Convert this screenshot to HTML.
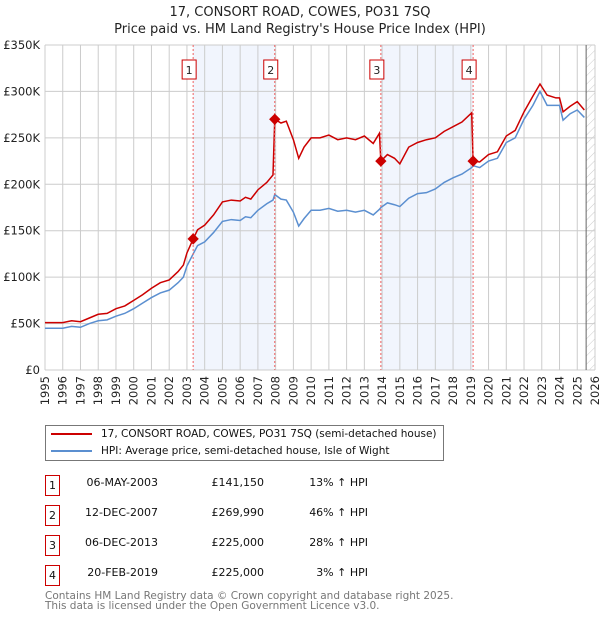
<!DOCTYPE html>
<html><head><meta charset="utf-8"><style>
body{margin:0;background:#fff;font-family:"DejaVu Sans","Liberation Sans",sans-serif;}
.w{position:relative;width:600px;height:620px;overflow:hidden}
</style></head><body><div class="w">
<svg id="c" width="600" height="620" font-family="DejaVu Sans, Liberation Sans, sans-serif">
<defs><pattern id="h" width="6" height="6" patternUnits="userSpaceOnUse" patternTransform="rotate(45)"><line x1="0" y1="0" x2="0" y2="6" stroke="#ccc" stroke-width="1"/></pattern></defs>
<text x="300" y="16" text-anchor="middle" font-size="13" fill="#222">17, CONSORT ROAD, COWES, PO31 7SQ</text>
<text x="300" y="33" text-anchor="middle" font-size="13" fill="#222">Price paid vs. HM Land Registry's House Price Index (HPI)</text>
<g id="g"></g>
</svg>
<div style="position:absolute;left:45px;top:425px;width:397px;height:34px;border:1px solid #777;font-size:10.5px;color:#111">
<div style="position:absolute;left:5px;top:7px;width:41px;height:2px;background:#cc0000"></div>
<div style="position:absolute;left:55px;top:2px;white-space:nowrap">17, CONSORT ROAD, COWES, PO31 7SQ (semi-detached house)</div>
<div style="position:absolute;left:5px;top:24px;width:41px;height:2px;background:#5b8fd0"></div>
<div style="position:absolute;left:55px;top:19px;white-space:nowrap">HPI: Average price, semi-detached house, Isle of Wight</div>
</div>
<div id="t" style="font-size:11px;color:#111"></div>
<div style="position:absolute;left:45px;top:591px;font-size:10.5px;color:#777;line-height:10px;white-space:nowrap">Contains HM Land Registry data © Crown copyright and database right 2025.<br>This data is licensed under the Open Government Licence v3.0.</div>
</div>
<script>
const years=[1995,1996,1996.5,1997,1997.5,1998,1998.5,1999,1999.5,2000,2000.5,2001,2001.5,2002,2002.5,2002.8,2003,2003.35,2003.6,2004,2004.5,2005,2005.5,2006,2006.3,2006.6,2007,2007.5,2007.85,2007.95,2008.3,2008.6,2009,2009.3,2009.6,2010,2010.5,2011,2011.5,2012,2012.5,2013,2013.5,2013.85,2013.93,2014.3,2014.7,2015,2015.5,2016,2016.5,2017,2017.5,2018,2018.5,2019.05,2019.13,2019.5,2020,2020.5,2021,2021.5,2022,2022.5,2022.9,2023.3,2023.8,2024,2024.2,2024.6,2025,2025.4];
const hpi=[45,45,47,46,50,53,54,58,61,66,72,78,83,86,94,100,112,125,134,138,148,160,162,161,165,164,172,179,183,189,184,183,170,155,163,172,172,174,171,172,170,172,167,173,175,180,178,176,185,190,191,195,202,207,211,218,220,218,225,228,245,250,270,285,300,285,285,285,269,276,280,272];
const price=[51,51,53,52,56,60,61,66,69,75,81,88,94,97,106,113,126,141,151,156,167,181,183,182,186,184,194,202,210,270,266,268,248,228,240,250,250,253,248,250,248,252,244,255,225,232,228,222,240,245,248,250,257,262,267,277,225,224,232,235,252,258,278,295,308,296,293,293,278,284,289,280];
const saleYears=[2003.35,2007.95,2013.93,2019.13];
const saleValues=[141.15,269.99,225,225];
const saleDates=["06-MAY-2003","12-DEC-2007","06-DEC-2013","20-FEB-2019"];
const salePrices=["£141,150","£269,990","£225,000","£225,000"];
const saleHpi=["13% ↑ HPI","46% ↑ HPI","28% ↑ HPI","3% ↑ HPI"];
const yTicks=[0,50,100,150,200,250,300,350];
const X0=45,X1=595,Y0=370,Y1=45;
const x=v=>X0+(v-1995)*(X1-X0)/31;
const y=v=>Y0-v*(Y0-Y1)/350;
const g=document.getElementById('g');const NS='http://www.w3.org/2000/svg';
function mk(t,a,p){const e=document.createElementNS(NS,t);for(const k in a)e.setAttribute(k,a[k]);(p||g).appendChild(e);return e;}
for(let i=0;i<2;i++){const r=mk('rect',{x:x(saleYears[2*i]),y:Y1,width:x(saleYears[2*i+1])-x(saleYears[2*i]),height:Y0-Y1,fill:'#eef3fc',opacity:0.8});

}
const hr=mk('rect',{x:x(2025.5),y:Y1,width:X1-x(2025.5),height:Y0-Y1,fill:'url(#h)'});


for(let yr=1995;yr<=2026;yr++){const l=mk('line',{x1:x(yr),x2:x(yr),y1:Y1,y2:Y0,stroke:'#ccc','stroke-width':1});


const t=mk('text',{transform:`translate(${x(yr)+4},${Y0+6}) rotate(-90)`,'text-anchor':'end','font-size':11.5,fill:'#222'});t.textContent=yr;

}
yTicks.forEach(v=>{const l=mk('line',{x1:X0,x2:X1,y1:y(v),y2:y(v),stroke:'#ccc','stroke-width':1});


const t=mk('text',{x:40,y:y(v)+4,'text-anchor':'end','font-size':11.5,fill:'#222'});t.textContent=v===0?'£0':'£'+v+'K';

});
const dl=mk('line',{x1:x(2025.5),x2:x(2025.5),y1:Y1,y2:Y0,stroke:'#666','stroke-width':1});


const pb=mk('polyline',{points:years.map((v,i)=>x(v)+','+y(hpi[i])).join(' '),fill:'none',stroke:'#5b8fd0','stroke-width':1.5});


const pr=mk('polyline',{points:years.map((v,i)=>x(v)+','+y(price[i])).join(' '),fill:'none',stroke:'#cc0000','stroke-width':1.5});


saleYears.forEach((s,i)=>{const l=mk('line',{x1:x(s),x2:x(s),y1:Y1,y2:Y0,stroke:'#f06060','stroke-width':1,'stroke-dasharray':'2,2'});


const d=mk('rect',{x:x(s)-4,y:y(saleValues[i])-4,width:8,height:8,fill:'#cc0000',transform:`rotate(45 ${x(s)} ${y(saleValues[i])})`});


const b=mk('rect',{x:x(s)-11,y:60,width:14,height:19,fill:'#fff',stroke:'#cc0000','stroke-width':1});


const t=mk('text',{x:x(s)-4,y:74,'text-anchor':'middle','font-size':11,fill:'#222'});t.textContent=i+1;

});
const T=document.getElementById('t');
saleDates.forEach((d,i)=>{const top=475+i*30;const r=document.createElement('div');


r.innerHTML=`<div style="position:absolute;left:45px;top:${top}px;width:13px;height:19px;border:1px solid #cc0000;text-align:center;line-height:19px">${i+1}</div>
<div style="position:absolute;left:60px;top:${top+1}px;width:98px;text-align:right;white-space:nowrap">${d}</div>
<div style="position:absolute;left:180px;top:${top+1}px;width:84px;text-align:right">${salePrices[i]}</div>
<div style="position:absolute;left:280px;top:${top+1}px;width:88px;text-align:right">${saleHpi[i]}</div>`;T.appendChild(r);});
</script></body></html>
